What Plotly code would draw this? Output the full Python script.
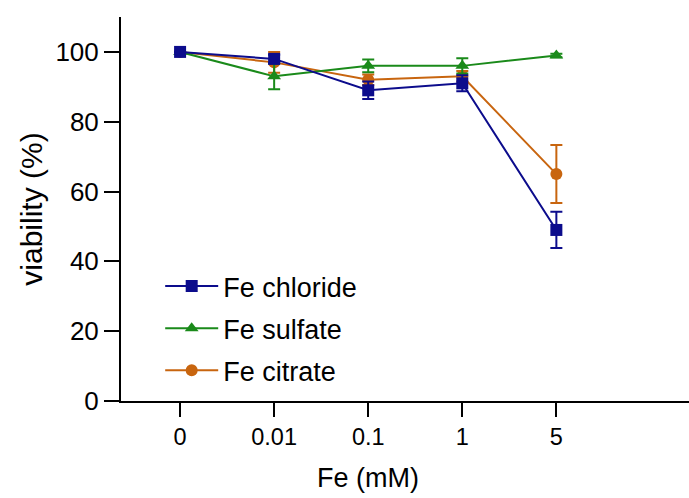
import plotly.graph_objects as go

categories = ["0", "0.01", "0.1", "1", "5"]
chloride = [100, 98, 89, 91, 49]
chloride_err = [0, 1.2, 2.5, 2.3, 5.2]
sulfate = [100, 93, 96, 96, 99]
sulfate_err = [0, 3.7, 1.8, 2.2, 0.5]
citrate = [100, 97, 92, 93, 65]
citrate_err = [0, 3, 1.5, 1.5, 8.3]

x_idx = list(range(len(categories)))

FONT = "Liberation Sans, Arial, sans-serif"

series = [
    ("Fe citrate", citrate, citrate_err, "#c8650f", "circle", 3),
    ("Fe sulfate", sulfate, sulfate_err, "#1a8a1a", "triangle-up", 2),
    ("Fe chloride", chloride, chloride_err, "#0c0c8c", "square", 1),
]

fig = go.Figure()
for name, vals, errs, color, sym, rank in series:
    fig.add_trace(go.Scatter(
        x=x_idx, y=vals, name=name, mode="lines+markers",
        line=dict(color=color, width=2),
        marker=dict(symbol=sym, size=12, color=color),
        error_y=dict(type="data", array=errs, visible=True, color=color,
                     thickness=2, width=6),
        legendrank=rank, legendgroup=name,
    ))

fig.add_annotation(
    text="Fe (mM)", x=2, xref="x", y=-0.2, yref="paper",
    xanchor="center", yanchor="middle", showarrow=False,
    font=dict(size=27, family=FONT, color="black"),
)

fig.update_layout(
    width=689, height=498,
    margin=dict(l=121, r=0, t=17, b=97),
    paper_bgcolor="white", plot_bgcolor="white",
    font=dict(family=FONT, size=22, color="black"),
    showlegend=True,
    legend=dict(x=0.069, y=0.362, xanchor="left", yanchor="top",
                font=dict(size=27, family=FONT), bgcolor="rgba(0,0,0,0)",
                tracegroupgap=4, itemwidth=53),
    xaxis=dict(
        range=[-0.628, 5.41], tickmode="array", tickvals=x_idx, ticktext=categories,
        showline=True, linecolor="black", linewidth=2, ticks="outside",
        ticklen=14, tickwidth=2, tickcolor="black", showgrid=False, zeroline=False,
        tickfont=dict(size=23.5),
    ),
    yaxis=dict(
        range=[0, 110], tickvals=[0, 20, 40, 60, 80, 100],
        showline=True, linecolor="black", linewidth=2, ticks="outside",
        ticklen=15, tickwidth=2, tickcolor="black", showgrid=False, zeroline=False,
        tickfont=dict(size=26), title=dict(text="viability (%)", font=dict(size=30), standoff=4),
    ),
)

fig.write_html("out.html")
